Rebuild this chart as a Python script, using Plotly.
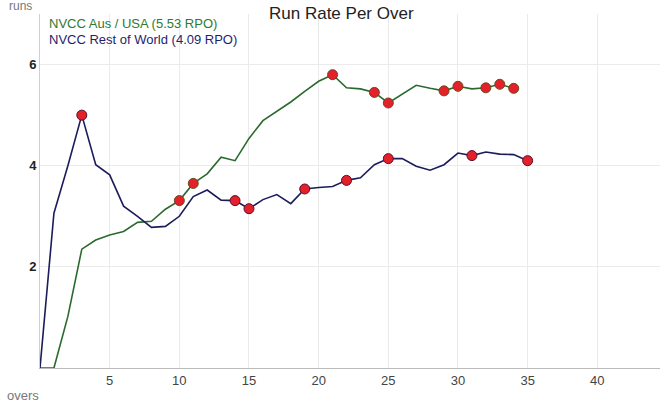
import plotly.graph_objects as go

overs_aus = list(range(0, 35))
rpo_aus = [0, 0, 1.02, 2.35, 2.53, 2.63, 2.70, 2.88, 2.90, 3.14, 3.31, 3.65, 3.84, 4.17, 4.10,
           4.54, 4.89, 5.07, 5.26, 5.47, 5.67, 5.80, 5.54, 5.52, 5.45, 5.24, 5.42, 5.59, 5.53,
           5.48, 5.57, 5.52, 5.54, 5.61, 5.53]
wkt_aus = [10, 11, 21, 24, 25, 29, 30, 32, 33, 34]

overs_row = list(range(0, 36))
rpo_row = [0, 3.06, 4.0, 5.0, 4.02, 3.82, 3.20, 3.00, 2.78, 2.80, 3.00, 3.39, 3.52, 3.32, 3.31,
           3.15, 3.33, 3.43, 3.25, 3.54, 3.57, 3.59, 3.71, 3.76, 4.02, 4.14, 4.14, 3.99, 3.91,
           4.02, 4.25, 4.20, 4.27, 4.23, 4.22, 4.10]
wkt_row = [3, 14, 15, 19, 22, 25, 31, 35]

name_aus = "NVCC Aus / USA (5.53 RPO)"
name_row = "NVCC Rest of World (4.09 RPO)"
title = "Run Rate Per Over"
x_ticks = [5, 10, 15, 20, 25, 30, 35, 40]
y_ticks = [2, 4, 6]

green = "#2b6a2e"
navy = "#1c1c5a"
marker_red = "#e4202a"

fig = go.Figure()
fig.add_trace(go.Scatter(x=overs_aus, y=rpo_aus, mode="lines",
                         line=dict(color=green, width=1.6), showlegend=False, hoverinfo="skip"))
fig.add_trace(go.Scatter(x=overs_row, y=rpo_row, mode="lines",
                         line=dict(color=navy, width=1.6), showlegend=False, hoverinfo="skip"))
fig.add_trace(go.Scatter(x=wkt_aus, y=[rpo_aus[o] for o in wkt_aus], mode="markers",
                         marker=dict(color=marker_red, size=10, line=dict(color="#6a4a1a", width=1)),
                         showlegend=False))
fig.add_trace(go.Scatter(x=wkt_row, y=[rpo_row[o] for o in wkt_row], mode="markers",
                         marker=dict(color=marker_red, size=10, line=dict(color="#5a1030", width=1)),
                         showlegend=False))

fig.update_layout(
    width=663, height=407,
    margin=dict(l=40, r=3, t=14, b=39),
    paper_bgcolor="white", plot_bgcolor="white",
    font=dict(family="Liberation Sans, Arial, sans-serif", size=13, color="#444"),
    xaxis=dict(range=[0, 44.5], tickvals=x_ticks, showgrid=True, gridcolor="#ebebeb",
               zeroline=False, showline=True, linecolor="#bbbbbb", linewidth=1,
               ticks="", tickfont=dict(size=13, color="#444")),
    yaxis=dict(range=[0, 7], tickvals=y_ticks, showgrid=True, gridcolor="#ebebeb",
               zeroline=False, showline=True, linecolor="#d0d0d0", linewidth=1,
               ticks="", tickfont=dict(size=13, color="#222", weight="bold")),
    annotations=[
        dict(text=title, xref="paper", yref="paper", x=0.487, y=0.97, xanchor="center",
             yanchor="bottom", showarrow=False,
             font=dict(family="Liberation Sans Narrow, Liberation Sans, sans-serif",
                       size=17, color="#222")),
        dict(text="runs", xref="paper", yref="paper", x=-0.053, y=1.022, xanchor="left",
             yanchor="middle", showarrow=False, font=dict(size=12, color="#777")),
        dict(text="overs", xref="paper", yref="paper", x=-0.057, y=-0.079, xanchor="left",
             yanchor="middle", showarrow=False, font=dict(size=13, color="#777")),
        dict(text=name_aus, xref="paper", yref="paper", x=0.011, y=0.972, xanchor="left",
             yanchor="middle", showarrow=False, font=dict(size=13, color="#2f7a2f")),
        dict(text=name_row, xref="paper", yref="paper", x=0.011, y=0.927, xanchor="left",
             yanchor="middle", showarrow=False, font=dict(size=13, color="#1f1f6e")),
    ],
)

fig.write_html("out.html", config={"displayModeBar": False},
               post_script="document.body.style.margin='0';document.body.style.padding='0';")
